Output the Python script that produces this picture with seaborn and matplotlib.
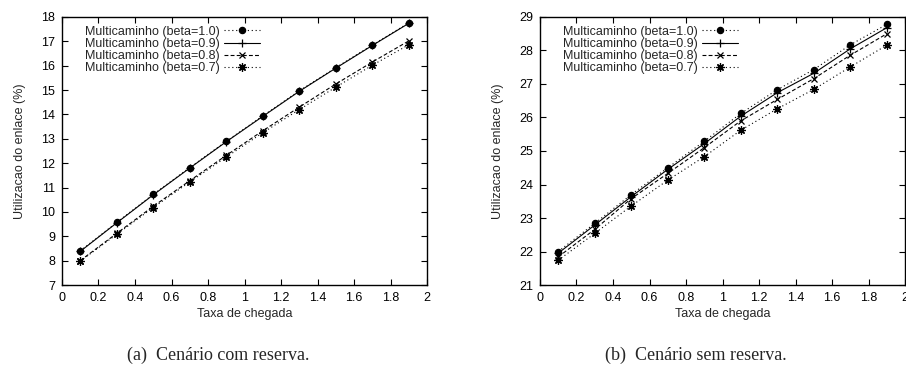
import pandas as pd
import matplotlib
matplotlib.use("Agg")
import matplotlib.pyplot as plt
import seaborn as sns

# arrival rates (x axis)
TAXA = [0.1, 0.3, 0.5, 0.7, 0.9, 1.1, 1.3, 1.5, 1.7, 1.9]

BETAS = ["1.0", "0.9", "0.8", "0.7"]

# link utilisation (%) - scenario with reserve
COM_RESERVA = {
    "1.0": [8.40, 9.57, 10.72, 11.82, 12.90, 13.94, 14.97, 15.92, 16.85, 17.76],
    "0.9": [8.38, 9.55, 10.70, 11.80, 12.88, 13.92, 14.95, 15.90, 16.83, 17.74],
    "0.8": [8.00, 9.12, 10.23, 11.28, 12.32, 13.33, 14.30, 15.25, 16.15, 17.02],
    "0.7": [7.98, 9.08, 10.18, 11.23, 12.25, 13.25, 14.20, 15.12, 16.02, 16.86],
}

# link utilisation (%) - scenario without reserve
SEM_RESERVA = {
    "1.0": [22.00, 22.84, 23.70, 24.50, 25.29, 26.12, 26.83, 27.43, 28.17, 28.78],
    "0.9": [21.95, 22.79, 23.64, 24.45, 25.22, 26.04, 26.74, 27.32, 28.05, 28.68],
    "0.8": [21.84, 22.66, 23.58, 24.33, 25.10, 25.90, 26.54, 27.16, 27.86, 28.50],
    "0.7": [21.74, 22.54, 23.36, 24.13, 24.83, 25.62, 26.26, 26.84, 27.51, 28.16],
}

# gnuplot-like styles per series
STYLES = {
    "1.0": dict(marker="o", dashes=(1, 2.5), markersize=4.5),
    "0.9": dict(marker="+", dashes=(None, None), markersize=6),
    "0.8": dict(marker="x", dashes=(3.5, 2), markersize=5),
    "0.7": dict(marker=(8, 2, 0), dashes=(1, 2.5), markersize=6),
}

sns.set_style("ticks")
plt.rcParams["font.family"] = ["Liberation Sans", "DejaVu Sans"]
plt.rcParams["font.size"] = 9


def make_df(data):
    rows = []
    for b in BETAS:
        for x, y in zip(TAXA, data[b]):
            rows.append({"taxa": x, "util": y, "serie": "Multicaminho (beta=" + b + ")", "beta": b})
    return pd.DataFrame(rows)


def draw_panel(ax, data, ylim):
    df = make_df(data)
    for b in BETAS:
        sub = df[df["beta"] == b]
        st = STYLES[b]
        sns.lineplot(data=sub, x="taxa", y="util", ax=ax, color="black",
                     linewidth=0.8, marker=st["marker"], markersize=st["markersize"],
                     markeredgewidth=0.9, markeredgecolor="black",
                     label=sub["serie"].iloc[0], legend=False)
        ln = ax.get_lines()[-1]
        if st["dashes"][0] is None:
            ln.set_linestyle("-")
        else:
            ln.set_dashes(st["dashes"])
    ax.set_xlim(0, 2)
    ax.set_ylim(*ylim)
    ax.set_xticks([0, 0.2, 0.4, 0.6, 0.8, 1, 1.2, 1.4, 1.6, 1.8, 2])
    ax.set_xticklabels(["0", "0.2", "0.4", "0.6", "0.8", "1", "1.2", "1.4", "1.6", "1.8", "2"])
    ax.set_yticks(range(ylim[0], ylim[1] + 1))
    ax.tick_params(direction="in", top=True, right=True, length=4, width=0.8,
                   labelsize=9, pad=5, colors="black")
    ax.tick_params(axis="x", pad=5)
    for s in ax.spines.values():
        s.set_linewidth(1.0)
        s.set_color("black")
    ax.set_xlabel("Taxa de chegada", fontsize=9, labelpad=3)
    ax.set_ylabel("Utilizacao do enlace (%)", fontsize=9, labelpad=11)
    handles, labels = ax.get_legend_handles_labels()
    ax.legend(handles, labels, loc="upper left", bbox_to_anchor=(0.04, 1.0),
              frameon=False, markerfirst=False, handlelength=2.9, handletextpad=0.3,
              labelspacing=0.02, fontsize=9, borderaxespad=0.3)


fig = plt.figure(figsize=(9.06, 3.69), dpi=100)
ax1 = fig.add_axes([0.0684, 0.2276, 0.403, 0.7264])
ax2 = fig.add_axes([0.596, 0.2276, 0.403, 0.7264])

draw_panel(ax1, COM_RESERVA, (7, 18))
draw_panel(ax2, SEM_RESERVA, (21, 29))

fig.text(0.241, 0.038, "(a)  Cenário com reserva.", ha="center", va="center",
         family=["Liberation Serif", "DejaVu Serif"], fontsize=13)
fig.text(0.768, 0.038, "(b)  Cenário sem reserva.", ha="center", va="center",
         family=["Liberation Serif", "DejaVu Serif"], fontsize=13)

fig.savefig("out.png", dpi=100)
